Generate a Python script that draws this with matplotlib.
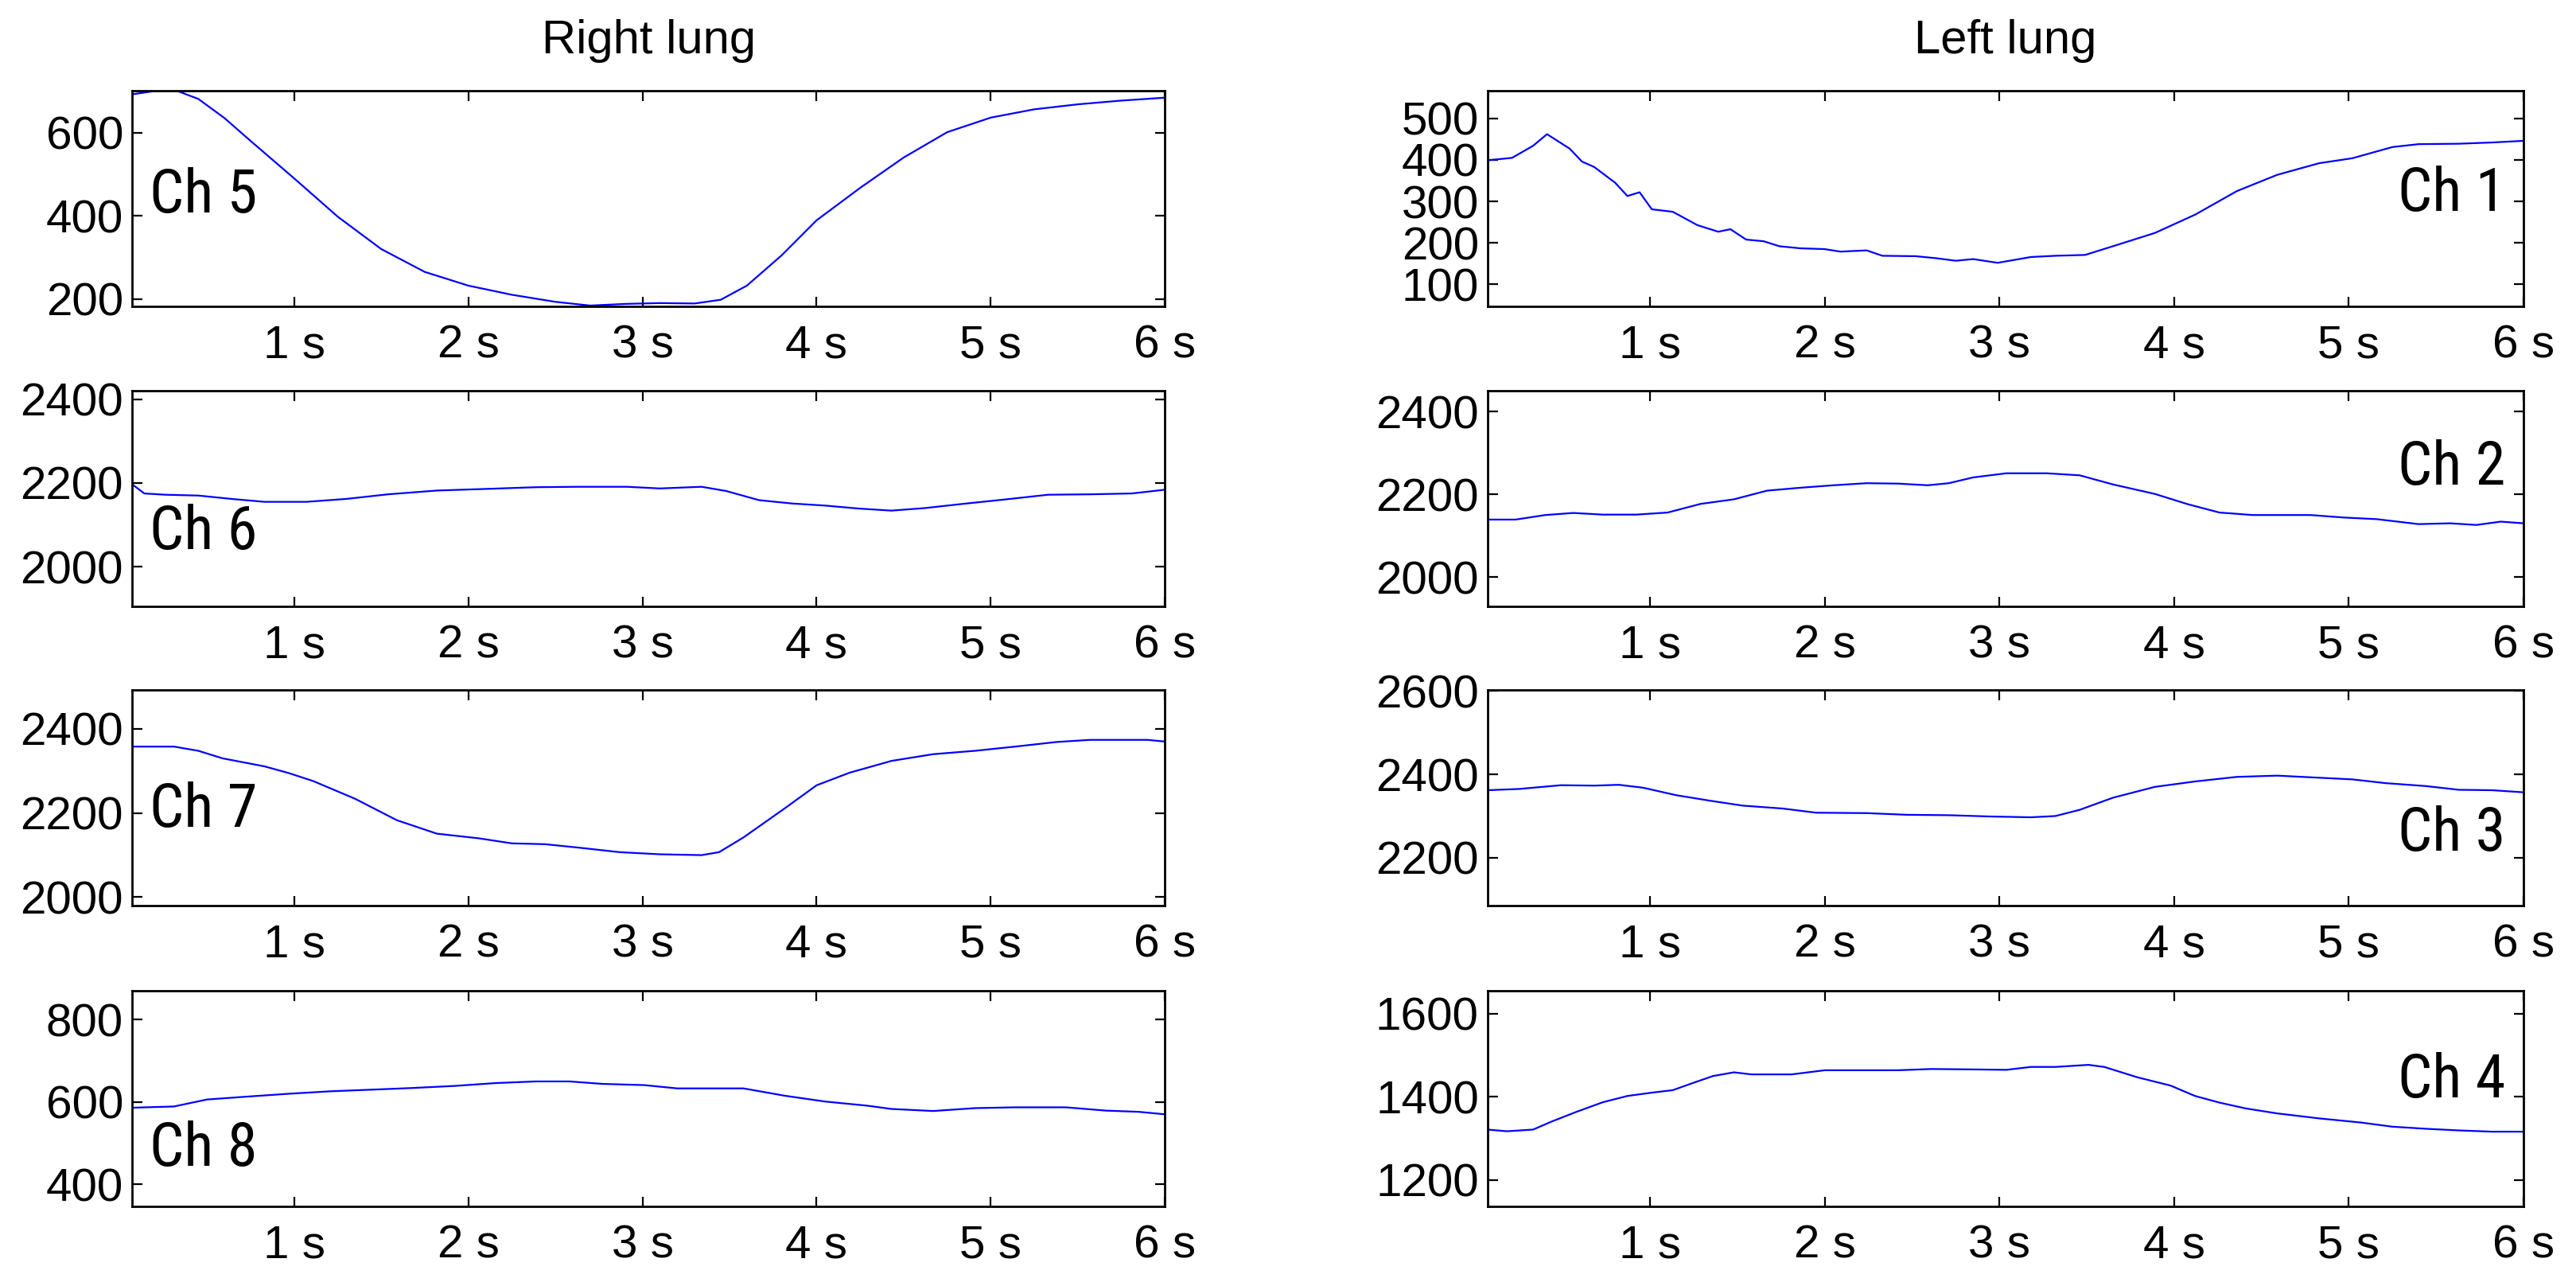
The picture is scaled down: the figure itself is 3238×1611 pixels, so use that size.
import matplotlib
matplotlib.use("Agg")
import matplotlib.pyplot as plt

plt.rcParams['font.family'] = ['Liberation Sans', 'DejaVu Sans']

# time stamps (s) and values, one pair per channel
ch1_t = [0.07, 0.21, 0.33, 0.41, 0.54, 0.61, 0.68, 0.80, 0.87, 0.94, 1.01, 1.13, 1.27, 1.39, 1.46,
         1.55, 1.65, 1.74, 1.86, 2.00, 2.09, 2.24, 2.33, 2.52, 2.64, 2.75, 2.85, 2.99, 3.18, 3.32,
         3.49, 3.65, 3.89, 4.12, 4.36, 4.59, 4.83, 5.02, 5.25, 5.40, 5.63, 5.82, 6.00]
ch1_v = [399, 405, 434, 462, 427, 396, 383, 345, 313, 322, 281, 275, 243, 227, 233,
         208, 204, 192, 187, 185, 179, 182, 169, 168, 163, 157, 161, 152, 166, 169,
         171, 192, 224, 268, 325, 364, 392, 404, 431, 438, 439, 442, 446]

ch2_t = [0.07, 0.23, 0.40, 0.56, 0.73, 0.92, 1.10, 1.29, 1.48, 1.67, 1.86, 2.05, 2.24, 2.42, 2.59,
         2.71, 2.85, 3.04, 3.27, 3.46, 3.65, 3.89, 4.08, 4.26, 4.45, 4.78, 4.97, 5.16, 5.40, 5.58,
         5.73, 5.87, 6.00]
ch2_v = [2139, 2139, 2150, 2155, 2151, 2151, 2156, 2177, 2188, 2209, 2216, 2222, 2227, 2226, 2222,
         2227, 2241, 2251, 2251, 2246, 2224, 2201, 2176, 2156, 2150, 2150, 2144, 2140, 2128, 2130,
         2126, 2134, 2130]

ch3_t = [0.07, 0.25, 0.49, 0.68, 0.82, 0.96, 1.15, 1.34, 1.53, 1.76, 1.95, 2.24, 2.47, 2.71, 2.94,
         3.18, 3.32, 3.46, 3.65, 3.89, 4.12, 4.36, 4.59, 4.83, 5.02, 5.21, 5.44, 5.63, 5.82, 6.00]
ch3_v = [2362, 2365, 2374, 2373, 2375, 2368, 2350, 2337, 2325, 2318, 2308, 2307, 2303, 2302, 2299,
         2297, 2300, 2315, 2344, 2370, 2383, 2394, 2397, 2392, 2388, 2379, 2372, 2363, 2362, 2357]

ch4_t = [0.07, 0.18, 0.33, 0.44, 0.58, 0.73, 0.87, 1.01, 1.13, 1.25, 1.36, 1.48, 1.58, 1.81, 2.00,
         2.24, 2.42, 2.61, 2.85, 3.04, 3.18, 3.32, 3.51, 3.60, 3.79, 3.98, 4.12, 4.26, 4.41, 4.59,
         4.83, 5.07, 5.25, 5.44, 5.63, 5.82, 6.00]
ch4_v = [1321, 1317, 1321, 1341, 1364, 1387, 1402, 1410, 1416, 1434, 1450, 1459, 1454, 1454, 1464,
         1464, 1464, 1467, 1466, 1465, 1472, 1472, 1477, 1472, 1447, 1427, 1402, 1386, 1372, 1360,
         1348, 1338, 1328, 1323, 1319, 1316, 1316]

ch5_t = [0.07, 0.20, 0.33, 0.45, 0.60, 0.75, 1.00, 1.25, 1.50, 1.75, 2.00, 2.25, 2.50, 2.70, 2.90,
         3.10, 3.30, 3.45, 3.60, 3.80, 4.00, 4.25, 4.50, 4.75, 5.00, 5.25, 5.50, 5.75, 6.00]
ch5_v = [692, 700, 700, 681, 635, 580, 490, 398, 320, 265, 232, 210, 193, 184, 188,
         190, 189, 198, 232, 305, 389, 467, 540, 601, 636, 656, 668, 677, 684]

ch6_t = [0.07, 0.14, 0.26, 0.45, 0.64, 0.83, 1.07, 1.30, 1.54, 1.82, 2.11, 2.39, 2.63, 2.91, 3.10,
         3.34, 3.48, 3.67, 3.86, 4.05, 4.24, 4.43, 4.62, 4.86, 5.09, 5.33, 5.57, 5.81, 6.00]
ch6_v = [2197, 2175, 2172, 2170, 2162, 2155, 2155, 2162, 2173, 2182, 2186, 2190, 2191, 2191, 2187,
         2191, 2181, 2159, 2151, 2146, 2139, 2134, 2140, 2151, 2161, 2172, 2173, 2175, 2184]

ch7_t = [0.07, 0.31, 0.45, 0.59, 0.83, 0.97, 1.11, 1.35, 1.59, 1.82, 2.06, 2.25, 2.44, 2.63, 2.87,
         3.10, 3.34, 3.44, 3.58, 3.82, 4.00, 4.19, 4.43, 4.67, 4.91, 5.14, 5.38, 5.57, 5.90, 6.00]
ch7_v = [2358, 2358, 2348, 2330, 2311, 2295, 2276, 2234, 2183, 2151, 2140, 2128, 2126, 2118, 2107,
         2102, 2100, 2107, 2142, 2212, 2266, 2296, 2324, 2340, 2348, 2358, 2369, 2374, 2374, 2370]

ch8_t = [0.07, 0.31, 0.50, 0.73, 0.97, 1.21, 1.45, 1.68, 1.92, 2.16, 2.39, 2.58, 2.77, 3.01, 3.20,
         3.58, 3.82, 4.05, 4.29, 4.43, 4.67, 4.91, 5.14, 5.43, 5.66, 5.85, 6.00]
ch8_v = [586, 589, 606, 613, 620, 626, 630, 634, 639, 646, 650, 650, 644, 641, 633,
         633, 615, 601, 591, 583, 578, 585, 587, 587, 579, 576, 570]

x_ticks = [1, 2, 3, 4, 5, 6]
x_tick_labels = ["1 s", "2 s", "3 s", "4 s", "5 s", "6 s"]

# (name, times, values, y limits, y ticks) for each column, top to bottom
right_lung = [
    ("Ch 5", ch5_t, ch5_v, (182, 700), [200, 400, 600]),
    ("Ch 6", ch6_t, ch6_v, (1905, 2420), [2000, 2200, 2400]),
    ("Ch 7", ch7_t, ch7_v, (1980, 2492), [2000, 2200, 2400]),
    ("Ch 8", ch8_t, ch8_v, (346, 870), [400, 600, 800]),
]
left_lung = [
    ("Ch 1", ch1_t, ch1_v, (47, 566), [100, 200, 300, 400, 500]),
    ("Ch 2", ch2_t, ch2_v, (1929, 2450), [2000, 2200, 2400]),
    ("Ch 3", ch3_t, ch3_v, (2085, 2602), [2200, 2400, 2600]),
    ("Ch 4", ch4_t, ch4_v, (1136, 1655), [1200, 1400, 1600]),
]
# label anchor (axes fraction) for each channel name
right_label_y = [0.51, 0.34, 0.44, 0.265]
left_label_y = [0.52, 0.64, 0.33, 0.58]

fig = plt.figure(figsize=(16.19, 8.055), dpi=200)

col_left = [0.0513, 0.5775]
col_width = [0.4009, 0.4021]
row_bottom = [0.761, 0.527, 0.2936, 0.059]
row_height = 0.168

label_font = ['Liberation Sans Narrow', 'Roboto Condensed', 'Liberation Sans', 'DejaVu Sans']

for col, (panels, title) in enumerate([(right_lung, "Right lung"), (left_lung, "Left lung")]):
    for row, (name, t, v, ylim, yticks) in enumerate(panels):
        ax = fig.add_axes([col_left[col], row_bottom[row], col_width[col], row_height])
        ax.plot(t, v, color='#0000ff', lw=0.8)
        ax.set_xlim(0.07, 6.0)
        ax.set_ylim(*ylim)
        ax.set_xticks(x_ticks, x_tick_labels)
        ax.set_yticks(yticks)
        ax.tick_params(direction='in', top=True, right=True, length=4.5, width=0.8,
                       labelsize=21)
        ax.tick_params(axis='x', pad=8)
        ax.tick_params(axis='y', pad=4)
        for sp in ax.spines.values():
            sp.set_linewidth(1.0)
        if col == 0:
            ax.text(0.017, right_label_y[row], name, transform=ax.transAxes,
                    ha='left', va='center', fontsize=27.5, family=label_font,
                    fontstretch='condensed')
        else:
            ax.text(0.983, left_label_y[row], name, transform=ax.transAxes,
                    ha='right', va='center', fontsize=27.5, family=label_font,
                    fontstretch='condensed')
        if row == 0:
            ax.set_title(title, fontsize=21.5, pad=17)

fig.savefig("out.png", dpi=200)
